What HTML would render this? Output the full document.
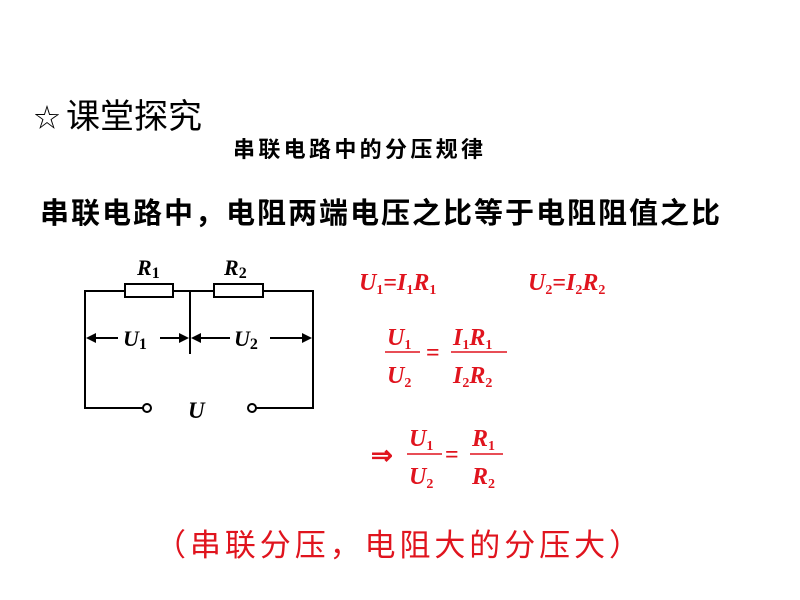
<!DOCTYPE html>
<html><head><meta charset="utf-8"><style>
body{margin:0;background:#fff;width:800px;height:600px;overflow:hidden}
svg{display:block}
.cn{font-family:"Liberation Sans","Noto Sans CJK SC",sans-serif}
.m{font-family:"Liberation Serif",serif;font-style:italic;font-weight:bold;fill:#e0141e}
.s{font-family:"Liberation Serif",serif;font-style:normal;font-weight:bold;fill:#e0141e}
.c{font-family:"Liberation Serif",serif;font-style:italic;fill:#000}
.n{font-style:normal}
</style></head><body>
<svg width="800" height="600" viewBox="0 0 800 600">
<text x="34" y="127" class="cn" font-size="26" fill="#000">☆</text>
<text x="66" y="128" class="cn" font-size="34" fill="#000">课堂探究</text>
<text x="233" y="157" class="cn" font-size="22" font-weight="bold" fill="#000" textLength="250">串联电路中的分压规律</text>
<text x="40" y="223" class="cn" font-size="29" font-weight="bold" fill="#000" textLength="680">串联电路中，电阻两端电压之比等于电阻阻值之比</text>
<!-- circuit -->
<g stroke="#000" stroke-width="2" fill="none">
<polyline points="143,408 85,408 85,291 125,291"/>
<rect x="125" y="284" width="48" height="13" fill="#fff"/>
<line x1="173" y1="291" x2="214" y2="291"/>
<rect x="214" y="284" width="49" height="13" fill="#fff"/>
<polyline points="263,291 313,291 313,408 256,408"/>
<line x1="190" y1="291" x2="190" y2="354"/>
<circle cx="147" cy="408" r="4" fill="#fff"/>
<circle cx="252" cy="408" r="4" fill="#fff"/>
<line x1="88" y1="338" x2="118" y2="338"/><line x1="160" y1="338" x2="187" y2="338"/>
<line x1="193" y1="338" x2="230" y2="338"/><line x1="270" y1="338" x2="310" y2="338"/>
</g>
<g fill="#000">
<polygon points="86,338 96,333 96,343"/><polygon points="189,338 179,333 179,343"/>
<polygon points="191,338 201,333 201,343"/><polygon points="312,338 302,333 302,343"/>
</g>
<text x="137" y="275" class="c" font-size="22" font-weight="bold">R<tspan class="n" font-size="16" dy="3">1</tspan></text>
<text x="224" y="275" class="c" font-size="22" font-weight="bold">R<tspan class="n" font-size="16" dy="3">2</tspan></text>
<text x="123" y="346" class="c" font-size="22" font-weight="bold">U<tspan class="n" font-size="16" dy="3">1</tspan></text>
<text x="234" y="346" class="c" font-size="22" font-weight="bold">U<tspan class="n" font-size="16" dy="3">2</tspan></text>
<text x="188" y="418" class="c" font-size="23" font-weight="bold">U</text>
<!-- formulas -->
<text x="359" y="290" class="m" font-size="24">U<tspan class="s" font-size="14" dy="4">1</tspan><tspan class="s" font-size="24" dy="-4">=</tspan>I<tspan class="s" font-size="14" dy="4">1</tspan><tspan dy="-4">R</tspan><tspan class="s" font-size="14" dy="4">1</tspan></text>
<text x="528" y="290" class="m" font-size="24">U<tspan class="s" font-size="14" dy="4">2</tspan><tspan class="s" font-size="24" dy="-4">=</tspan>I<tspan class="s" font-size="14" dy="4">2</tspan><tspan dy="-4">R</tspan><tspan class="s" font-size="14" dy="4">2</tspan></text>
<text x="387" y="345" class="m" font-size="24">U<tspan class="s" font-size="14" dy="4">1</tspan></text>
<line x1="385" y1="352" x2="420" y2="352" stroke="#e0141e" stroke-width="1.5"/>
<text x="387" y="383" class="m" font-size="24">U<tspan class="s" font-size="14" dy="4">2</tspan></text>
<text x="426" y="360" class="s" font-size="24">=</text>
<text x="453" y="345" class="m" font-size="24">I<tspan class="s" font-size="14" dy="4">1</tspan><tspan dy="-4">R</tspan><tspan class="s" font-size="14" dy="4">1</tspan></text>
<line x1="451" y1="352" x2="507" y2="352" stroke="#e0141e" stroke-width="1.5"/>
<text x="453" y="383" class="m" font-size="24">I<tspan class="s" font-size="14" dy="4">2</tspan><tspan dy="-4">R</tspan><tspan class="s" font-size="14" dy="4">2</tspan></text>
<text x="371" y="464" class="s" font-size="26">⇒</text>
<text x="409" y="446" class="m" font-size="24">U<tspan class="s" font-size="14" dy="4">1</tspan></text>
<line x1="407" y1="454" x2="442" y2="454" stroke="#e0141e" stroke-width="1.5"/>
<text x="409" y="484" class="m" font-size="24">U<tspan class="s" font-size="14" dy="4">2</tspan></text>
<text x="445" y="462" class="s" font-size="24">=</text>
<text x="472" y="446" class="m" font-size="24">R<tspan class="s" font-size="14" dy="4">1</tspan></text>
<line x1="470" y1="454" x2="503" y2="454" stroke="#e0141e" stroke-width="1.5"/>
<text x="472" y="484" class="m" font-size="24">R<tspan class="s" font-size="14" dy="4">2</tspan></text>
<text x="155" y="556" class="cn" font-size="31" fill="#e0141e" textLength="485">（串联分压，电阻大的分压大）</text>
</svg>
</body></html>
